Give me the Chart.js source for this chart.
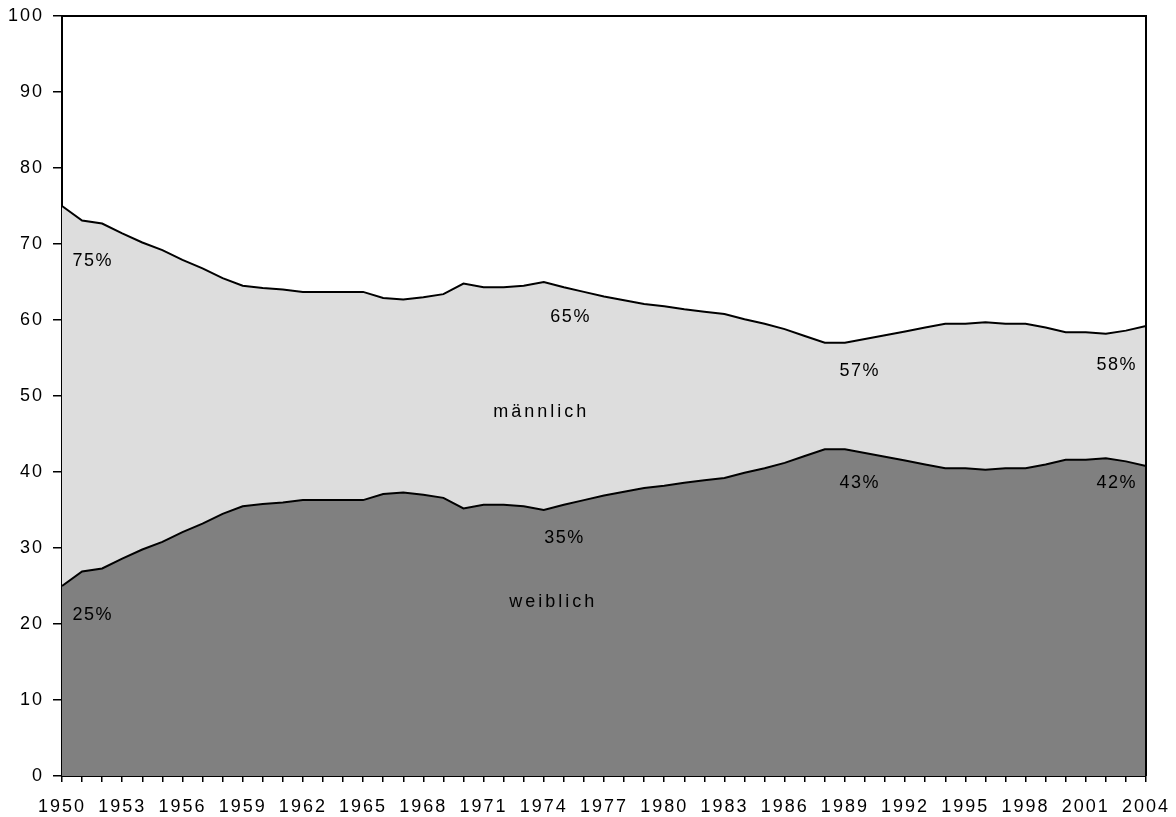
<!DOCTYPE html>
<html>
<head>
<meta charset="utf-8">
<script src="https://cdn.jsdelivr.net/npm/chart.js@4.4.1/dist/chart.umd.min.js"></script>
<style>
  html, body { margin: 0; padding: 0; background: #fff; }
  #wrap { width: 1176px; height: 817px; position: relative; }
</style>
</head>
<body>
<div id="wrap"><canvas id="chart"></canvas></div>
<script>
const years = [];
for (let y = 1950; y <= 2004; y++) years.push(String(y));

// share of women (lower area)
const weiblich = [
  25.0, 26.9, 27.3, 28.6, 29.8, 30.8, 32.1, 33.2, 34.5, 35.5,
  35.8, 36.0, 36.3, 36.3, 36.3, 36.3, 37.1, 37.3, 37.0, 36.6,
  35.2, 35.7, 35.7, 35.5, 35.0, 35.7, 36.3, 36.9, 37.4, 37.9,
  38.2, 38.6, 38.9, 39.2, 39.9, 40.5, 41.2, 42.1, 43.0, 43.0,
  42.5, 42.0, 41.5, 41.0, 40.5, 40.5, 40.3, 40.5, 40.5, 41.0,
  41.6, 41.6, 41.8, 41.4, 40.8,
];

// share of men (upper line)
const maennlich = [
  75.0, 73.1, 72.7, 71.4, 70.2, 69.2, 67.9, 66.8, 65.5, 64.5,
  64.2, 64.0, 63.7, 63.7, 63.7, 63.7, 62.9, 62.7, 63.0, 63.4,
  64.8, 64.3, 64.3, 64.5, 65.0, 64.3, 63.7, 63.1, 62.6, 62.1,
  61.8, 61.4, 61.1, 60.8, 60.1, 59.5, 58.8, 57.9, 57.0, 57.0,
  57.5, 58.0, 58.5, 59.0, 59.5, 59.5, 59.7, 59.5, 59.5, 59.0,
  58.4, 58.4, 58.2, 58.6, 59.2,
];

const yTicks = [0, 10, 20, 30, 40, 50, 60, 70, 80, 90, 100];

// text in the areas, placed in data coordinates (year, percent)
const areaLabels = [
  { text: '75%', year: 1951.5, value: 67.8, spacing: 1.5 },
  { text: '25%', year: 1951.5, value: 21.2, spacing: 1.5 },
  { text: '65%', year: 1975.3, value: 60.4, spacing: 1.5 },
  { text: 'männlich', year: 1973.8, value: 47.9, spacing: 3 },
  { text: '35%', year: 1975.0, value: 31.3, spacing: 1.5 },
  { text: 'weiblich', year: 1974.4, value: 22.9, spacing: 3 },
  { text: '57%', year: 1989.7, value: 53.3, spacing: 1.5 },
  { text: '43%', year: 1989.7, value: 38.6, spacing: 1.5 },
  { text: '58%', year: 2002.5, value: 54.1, spacing: 1.5 },
  { text: '42%', year: 2002.5, value: 38.5, spacing: 1.5 },
];

const FONT = "'Liberation Sans', Arial, sans-serif";

const spacingPlugin = {
  id: 'spacing',
  beforeLayout(chart) { chart.ctx.letterSpacing = '2px'; },
  beforeDraw(chart) { chart.ctx.letterSpacing = '2px'; },
};

const framePlugin = {
  id: 'frame',
  afterDraw(chart) {
    const { ctx, chartArea: a, scales } = chart;
    ctx.save();
    ctx.strokeStyle = '#000';
    ctx.lineWidth = 2;
    ctx.beginPath();
    ctx.moveTo(a.left, a.top);
    ctx.lineTo(a.right, a.top);
    ctx.lineTo(a.right, a.bottom);
    ctx.stroke();

    ctx.fillStyle = '#000';
    ctx.font = '18px ' + FONT;
    ctx.textAlign = 'center';
    ctx.textBaseline = 'middle';
    areaLabels.forEach((l) => {
      ctx.letterSpacing = l.spacing + 'px';
      const x = scales.x.getPixelForValue(l.year - 1950) + l.spacing / 2;
      const y = scales.y.getPixelForValue(l.value);
      ctx.fillText(l.text, x, y);
    });
    ctx.restore();
  },
};

new Chart(document.getElementById('chart'), {
  type: 'line',
  data: {
    labels: years,
    datasets: [
      {
        label: 'weiblich',
        data: weiblich,
        borderColor: '#000',
        borderWidth: 2,
        backgroundColor: '#808080',
        fill: 'origin',
        pointRadius: 0,
        tension: 0,
      },
      {
        label: 'männlich',
        data: maennlich,
        borderColor: '#000',
        borderWidth: 2,
        backgroundColor: '#dddddd',
        fill: '-1',
        pointRadius: 0,
        tension: 0,
      },
    ],
  },
  options: {
    responsive: true,
    maintainAspectRatio: false,
    animation: false,
    layout: { padding: { left: 0, top: 16, right: 30, bottom: 0 } },
    plugins: {
      legend: { display: false },
      tooltip: { enabled: false },
    },
    scales: {
      x: {
        offset: false,
        grid: {
          display: true,
          drawOnChartArea: false,
          drawTicks: true,
          tickLength: 6,
          color: '#000',
          lineWidth: 1.5,
        },
        border: { display: true, color: '#000', width: 2 },
        ticks: {
          autoSkip: false,
          maxRotation: 0,
          padding: 14,
          color: '#000',
          font: { family: FONT, size: 18 },
          callback: (val, i) => (i % 3 === 0 ? years[i] : ''),
        },
        afterFit: (scale) => {
          scale.height = 41;
          scale.paddingLeft = 0;
          scale.paddingRight = 0;
        },
      },
      y: {
        min: 0,
        max: 100,
        afterBuildTicks: (scale) => { scale.ticks = yTicks.map((v) => ({ value: v })); },
        grid: {
          display: true,
          drawOnChartArea: false,
          drawTicks: true,
          tickLength: 9,
          color: '#000',
          lineWidth: 1.5,
        },
        border: { display: true, color: '#000', width: 2 },
        ticks: {
          padding: 9,
          color: '#000',
          font: { family: FONT, size: 18 },
        },
        afterFit: (scale) => {
          scale.width = 62;
          scale.paddingTop = 0;
          scale.paddingBottom = 0;
        },
      },
    },
  },
  plugins: [spacingPlugin, framePlugin],
});
</script>
</body>
</html>
